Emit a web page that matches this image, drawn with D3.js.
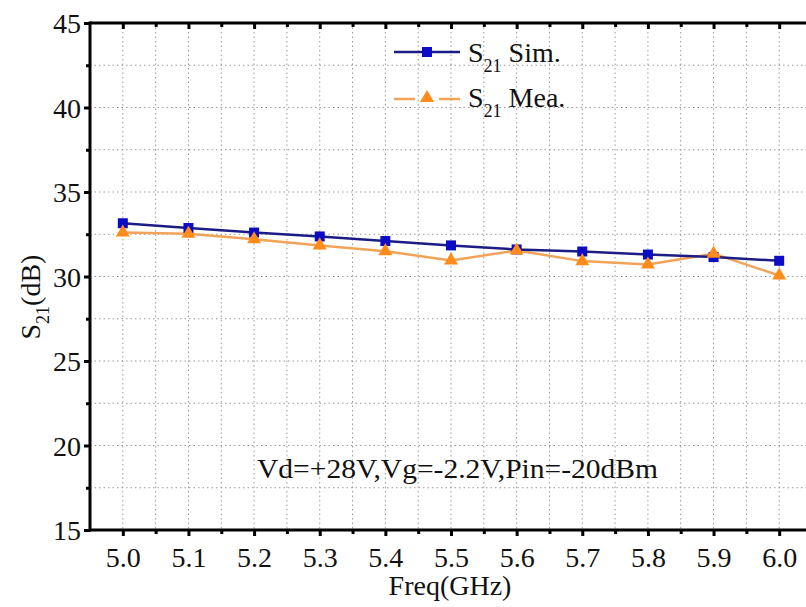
<!DOCTYPE html>
<html><head><meta charset="utf-8">
<script src="https://cdn.jsdelivr.net/npm/d3@7"></script>
<style>body{margin:0;background:#fff}svg{display:block}</style>
</head><body><div id="chart"></div>
<script>
const freqs = [5.0,5.1,5.2,5.3,5.4,5.5,5.6,5.7,5.8,5.9,6.0];
const simValues = [33.15,32.87,32.6,32.37,32.1,31.84,31.6,31.48,31.3,31.15,30.93];
const meaValues = [32.6,32.53,32.2,31.84,31.5,30.95,31.54,30.91,30.71,31.35,30.06];
const xTickLabels = ["5.0","5.1","5.2","5.3","5.4","5.5","5.6","5.7","5.8","5.9","6.0"];
const yTicks = [15,20,25,30,35,40,45];
const annotation = "Vd=+28V,Vg=-2.2V,Pin=-20dBm";

(function(){
const FONT="'Liberation Serif', 'Times New Roman', serif";
const W=806,H=607;
const svg=d3.select("#chart").append("svg").attr("width",W).attr("height",H).attr("font-family",FONT);
const x=d3.scaleLinear().domain([4.95,6.05]).range([90,812]);
const y=d3.scaleLinear().domain([15,45]).range([530,23]);

// grid
const gx=d3.range(0,22).map(i=>4.95+i*0.05).filter(v=>v>4.96&&v<6.04);
const gy=d3.range(17.5,45,2.5);
svg.append("g").selectAll("line").data(gx).join("line")
 .attr("x1",d=>x(d)).attr("x2",d=>x(d)).attr("y1",y(45)).attr("y2",y(15))
 .attr("stroke","#999").attr("stroke-width",1).attr("stroke-dasharray","1.5,3");
svg.append("g").selectAll("line").data(gy).join("line")
 .attr("y1",d=>y(d)).attr("y2",d=>y(d)).attr("x1",x(4.95)).attr("x2",x(6.05))
 .attr("stroke","#999").attr("stroke-width",1).attr("stroke-dasharray","1.5,3");

// axes
const bottomAxis=d3.axisBottom(x).tickValues(freqs).tickFormat((d,i)=>xTickLabels[i]).tickSize(6).tickPadding(6);
const gb=svg.append("g").attr("transform",`translate(0,${y(15)})`).call(bottomAxis);
const leftAxis=d3.axisLeft(y).tickValues(yTicks).tickFormat(d3.format("d")).tickSize(6).tickPadding(3);
const gl=svg.append("g").attr("transform",`translate(${x(4.95)},0)`).call(leftAxis);
const topAxis=d3.axisBottom(x).tickValues(freqs).tickFormat("").tickSize(6);
const gt=svg.append("g").attr("transform",`translate(0,${y(45)})`).call(topAxis);
// minor ticks
const minorX=freqs.slice(0,-1).map(v=>v+0.05);
const minorY=[17.5,22.5,27.5,32.5,37.5,42.5];
svg.append("g").attr("transform",`translate(0,${y(15)})`).call(d3.axisBottom(x).tickValues(minorX).tickFormat("").tickSize(4)).select(".domain").remove();
svg.append("g").attr("transform",`translate(0,${y(45)})`).call(d3.axisBottom(x).tickValues(minorX).tickFormat("").tickSize(4)).select(".domain").remove();
svg.append("g").attr("transform",`translate(${x(4.95)},0)`).call(d3.axisLeft(y).tickValues(minorY).tickFormat("").tickSize(4)).select(".domain").remove();
svg.selectAll(".tick line").attr("stroke","#000").attr("stroke-width",3);
svg.selectAll(".domain").attr("stroke","#000").attr("stroke-width",3);
gt.select(".domain").attr("d",`M${x(4.95)},0H${x(6.05)}`);
gb.select(".domain").attr("d",`M${x(4.95)},0H${x(6.05)}`);
gl.select(".domain").attr("d",`M0,${y(15)+1.5}V${y(45)-1.5}`);
svg.selectAll("g").attr("font-family",FONT);
svg.selectAll(".tick text").style("font-size","28px").attr("fill","#111");
gb.selectAll(".tick text").attr("dy","0.88em");
gl.selectAll(".tick text").attr("dy","0.35em");

// series
const line=d3.line().x((d,i)=>x(freqs[i])).y(d=>y(d));
svg.append("path").datum(meaValues).attr("d",line).attr("fill","none").attr("stroke","#f2a35a").attr("stroke-width",2.5);
svg.append("path").datum(simValues).attr("d",line).attr("fill","none").attr("stroke","#1c1c84").attr("stroke-width",2.5);
svg.append("g").selectAll("rect").data(simValues).join("rect")
 .attr("x",(d,i)=>x(freqs[i])-5).attr("y",d=>y(d)-5).attr("width",10).attr("height",10).attr("fill","#0c0cc4");
const tri=d3.symbol().type(d3.symbolTriangle).size(85);
svg.append("g").selectAll("path").data(meaValues).join("path")
 .attr("d",tri).attr("transform",(d,i)=>`translate(${x(freqs[i])},${y(d)})`).attr("fill","#ff8c1a");

// legend
const lg=svg.append("g");
lg.append("line").attr("x1",394).attr("x2",460).attr("y1",52).attr("y2",52).attr("stroke","#1c1c84").attr("stroke-width",2.5);
lg.append("rect").attr("x",422).attr("y",47).attr("width",10).attr("height",10).attr("fill","#0c0cc4");
lg.append("line").attr("x1",394).attr("x2",415).attr("y1",99).attr("y2",99).attr("stroke","#f2a35a").attr("stroke-width",2.5);
lg.append("line").attr("x1",439).attr("x2",460).attr("y1",99).attr("y2",99).attr("stroke","#f2a35a").attr("stroke-width",2.5);
lg.append("path").attr("d",tri).attr("transform","translate(427,98)").attr("fill","#ff8c1a");
function sub(g,xx,yy,rest){
 const t=g.append("text").attr("x",xx).attr("y",yy).style("font-size","28px");
 t.append("tspan").text("S");
 t.append("tspan").attr("dy",10).style("font-size","18px").text("21");
 t.append("tspan").attr("dy",-10).text(rest);
 return t;
}
sub(lg,468,62," Sim.");
sub(lg,468,107," Mea.");

// annotation
svg.append("text").attr("x",257).attr("y",478).attr("textLength",401).attr("lengthAdjust","spacingAndGlyphs").style("font-size","27px").text(annotation);

// axis titles
svg.append("text").attr("x",450).attr("y",595).attr("text-anchor","middle").style("font-size","28px").text("Freq(GHz)");
const yt=svg.append("text").attr("transform","translate(40,297) rotate(-90)").attr("text-anchor","middle").style("font-size","28px");
yt.append("tspan").text("S");
yt.append("tspan").attr("dy",9).style("font-size","18px").text("21");
yt.append("tspan").attr("dy",-9).text("(dB)");

svg.selectAll("text").style("font-family",FONT).attr("fill","#111");
})();
</script></body></html>
